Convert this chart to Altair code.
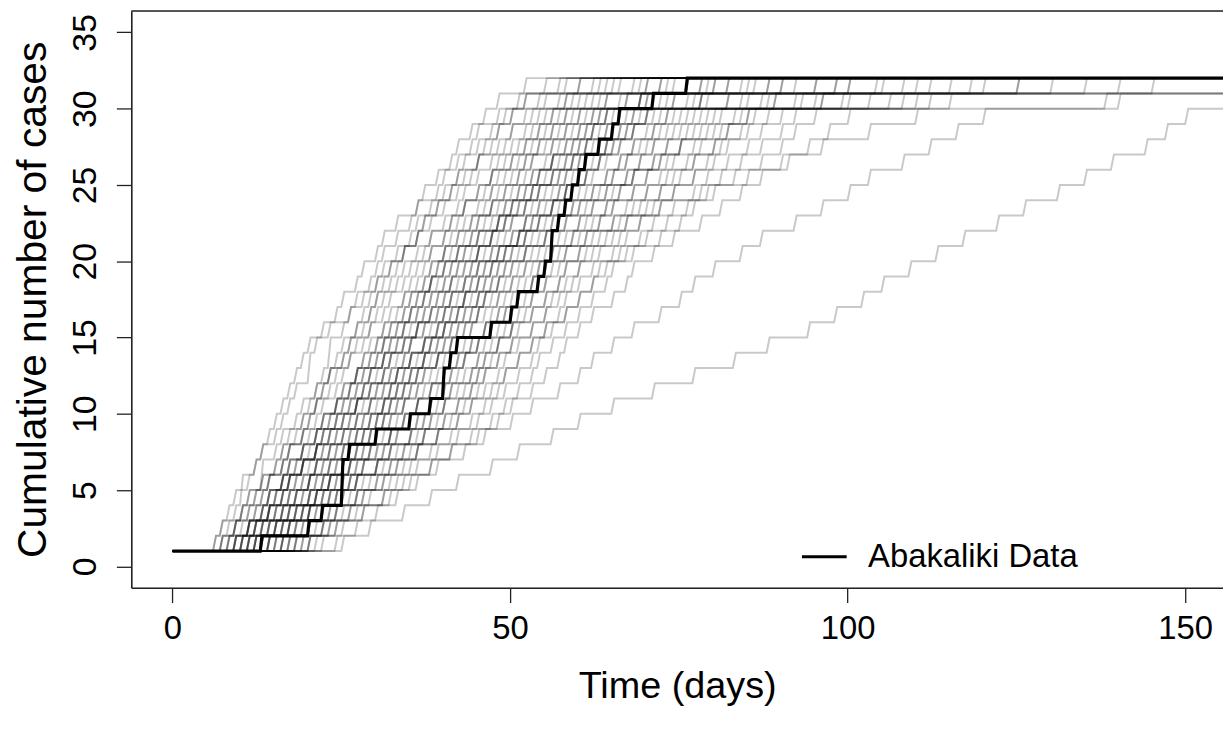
import altair as alt
import pandas as pd
from itertools import groupby

# ---- Abakaliki data ----
black_days = [0, 13, 20, 22, 25, 26, 30, 35, 38, 40, 41, 42, 47, 50, 51, 54, 55, 56, 57, 58, 59, 60, 61, 63, 65, 66, 71, 76]
black_cases = [1, 2, 3, 4, 7, 8, 9, 10, 11, 13, 14, 15, 16, 17, 18, 19, 20, 22, 23, 24, 25, 26, 27, 28, 29, 30, 31, 32]

# ---- simulated epidemics: day gaps between successive cases (estimated by eye) ----
sim_gaps = [
    [6, 1,2,1,0,2,1,2,1, 1,1,2,0,1,1,2,1,2,1, 2,1,2,3,1,2,2,1,2,2, 2,4],
    [7, 2,1,1,2,0,2,1,2, 1,2,1,1,0,2,1,1,2,1, 1,2,2,1,3,1,2,2,1,3, 3,4],
    [8, 1,1,2,1,2,1,1,2, 2,1,1,2,1,2,1,1,2,1, 1,2,2,1,2,1,3,2,1,2, 2,5],
    [9, 2,1,1,1,2,1,2,1, 1,1,1,2,1,1,2,1,1,1, 2,2,1,3,2,2,1,3,2,2, 3,5],
    [7, 2,2,1,2,2,1,2,2, 1,2,1,1,2,1,2,1,2,1, 2,1,2,2,1,2,2,2,1,3, 4,5],
    [10, 1,2,1,2,1,2,2,1, 2,1,2,1,1,2,1,2,1,1, 2,2,1,2,3,1,2,2,2,2, 3,5],
    [8, 2,3,1,2,2,1,2,2, 1,1,2,1,2,1,2,1,2,1, 1,2,2,1,2,2,1,2,2,2, 4,6],
    [11, 2,1,2,2,1,2,1,2, 1,2,1,2,1,1,2,1,2,1, 2,1,2,2,2,1,2,2,2,2, 3,7],
    [9, 3,2,2,1,2,2,2,2, 2,1,1,2,1,2,1,2,1,1, 1,2,2,2,1,2,2,2,2,2, 3,5],
    [12, 2,2,1,2,2,1,2,2, 1,1,2,1,2,1,2,1,1,2, 2,2,1,2,2,2,1,2,2,2, 4,6],
    [10, 2,3,2,2,2,2,2,2, 1,2,1,1,2,2,1,1,2,1, 2,1,2,2,2,2,1,2,2,2, 4,7],
    [13, 1,2,2,2,1,2,2,2, 2,1,2,1,2,1,2,1,2,1, 2,2,2,1,2,2,2,1,2,2, 4,5],
    [11, 2,2,3,2,2,2,2,2, 1,2,2,1,1,2,2,1,1,2, 2,2,1,2,2,2,2,1,2,2, 5,6],
    [14, 2,2,2,1,2,2,2,2, 2,1,1,2,2,1,2,1,2,1, 1,2,2,2,2,1,2,2,2,2, 5,7],
    [12, 3,2,2,2,3,2,2,2, 1,1,2,1,2,2,1,1,2,1, 2,2,2,2,1,2,2,2,2,2, 4,6],
    [15, 2,3,1,2,2,2,2,2, 1,2,1,2,1,2,1,2,1,1, 2,2,1,2,2,2,2,2,2,2, 5,7],
    [13, 2,3,2,2,3,2,2,2, 2,1,2,1,1,2,2,1,2,1, 2,2,2,1,2,2,2,2,2,2, 5,8],
    [16, 1,2,3,2,2,2,2,2, 2,1,1,2,2,1,2,2,1,1, 2,2,2,2,2,1,2,2,2,2, 6,8],
    [14, 3,2,3,2,2,3,2,2, 1,2,2,1,2,1,2,1,2,1, 2,2,2,2,2,2,1,2,2,2, 4,8],
    [17, 2,2,3,2,2,2,2,2, 2,1,2,1,2,2,1,1,2,1, 2,2,2,2,1,2,2,2,2,2, 5,9],
    [12, 3,3,3,2,3,3,3,3, 1,2,2,1,2,1,2,1,2,1, 2,3,2,1,2,2,2,2,2,2, 6,9],
    [15, 3,2,3,3,2,3,2,3, 2,1,2,1,2,2,1,1,2,1, 2,2,3,2,2,2,2,2,2,2, 6,10],
    [18, 2,3,2,2,3,2,3,2, 1,2,1,2,2,1,2,1,2,1, 2,2,2,3,2,2,2,2,2,2, 5,8],
    [16, 3,3,2,3,3,2,3,3, 2,1,2,2,1,2,2,1,2,1, 2,2,2,2,3,2,2,2,2,2, 7,10],
    [19, 3,2,3,2,3,2,3,2, 1,2,2,1,2,2,1,2,2,1, 2,2,3,2,2,2,3,2,2,2, 7,11],
    [13, 4,3,4,3,3,4,3,3, 2,2,1,2,1,2,2,1,2,1, 2,3,2,2,3,2,2,3,2,2, 8,11],
    [20, 3,3,2,3,2,3,3,2, 2,2,1,2,2,1,2,2,2,1, 2,2,3,2,3,2,2,3,2,2, 8,11],
    [17, 3,4,3,3,3,3,3,3, 2,2,2,1,2,2,2,1,2,2, 2,3,2,3,2,3,2,3,2,2, 9,12],
    [22, 3,3,3,2,3,3,2,3, 2,2,1,2,2,2,2,1,2,2, 3,2,2,3,2,3,2,2,3,2, 10,14],
    [18, 4,3,4,3,3,3,4,3, 2,2,2,2,1,2,2,2,2,1, 3,3,2,3,3,2,3,3,2,3, 10,15],
    [24, 3,3,3,3,2,3,3,3, 2,2,2,1,2,2,2,2,2,1, 3,4,3,2,3,3,4,3,2,3, 11,14],
    [20, 4,3,4,3,4,3,4,3, 2,3,2,2,1,2,2,3,2,1, 3,3,4,3,3,3,4,3,3,3, 12,18],
    [10, 1,2,1,2,1,2,2,1, 2,2,1,2,2,2,2,1,2,2, 2,3,3,2,4,3,3,4,3,3, 25,45],
    [9, 2,3,2,1,2,2,2,2, 2,2,3,2,1,2,2,2,2,2, 3,4,4,3,5,4,4,3,5,5, 30,50],
    [14, 2,2,3,2,2,1,2,2, 2,2,2,3,2,2,2,3,2,2, 4,5,6,5,7,6,5,6,7,7, 30,35],
    [25, 4,5,4,4,5,4,5,4, 5,6,6,6,5,6,4,4,3,4, 4,4,5,4,5,4,4,5,3,3, 15,25],
    [21, 3,4,4,3,4,4,3,4, 3,4,3,2,3,3,4,3,2,3, 4,3,5,4,4,3,5,4,4,4, 18,22],
    [6, 1,1,1,2,1,1,1,1, 1,1,1,1,1,3,3,2,2,2, 2,2,1,2,2,2,2,1,2,2, 4,6],
    [11, 2,3,2,2,3,2,2,2, 2,2,1,2,2,2,2,1,2,2, 2,2,1,2,2,2,1,2,1,2, 10,16],
    [16, 2,2,3,2,2,3,2,2, 2,2,2,2,2,2,2,2,2,1, 2,2,3,2,2,3,2,2,3,2, 20,29],
    [8, 1,2,2,1,2,1,2,1, 1,2,1,2,1,2,1,1,2,1, 2,2,3,2,2,2,3,2,2,2, 5,9],
    [10, 2,2,1,2,2,2,1,2, 2,1,2,2,1,2,2,1,2,1, 2,3,2,2,2,2,3,2,2,2, 7,11],
    [12, 2,3,2,1,2,2,2,2, 2,2,1,2,2,2,1,2,2,1, 2,3,2,2,3,2,2,3,2,2, 9,13],
    [9, 2,1,2,2,1,2,1,2, 2,2,1,2,1,2,2,1,2,1, 2,2,2,3,2,2,2,3,2,2, 10,14],
    [14, 2,3,2,2,3,2,2,2, 2,2,1,2,2,2,2,1,2,2, 2,3,2,3,2,3,2,3,2,2, 11,15],
    [11, 2,2,2,1,2,2,2,2, 1,2,2,1,2,2,2,1,2,1, 3,2,2,3,2,2,3,2,3,2, 12,17],
    [15, 2,3,2,3,2,2,3,2, 2,2,2,3,2,2,2,2,2,2, 3,2,3,2,3,2,3,2,3,2, 12,16],
    [13, 2,2,3,2,2,2,2,2, 2,1,2,2,2,1,2,2,2,1, 2,2,3,2,2,3,2,2,3,2, 18,24],
    [18, 3,2,3,2,3,2,3,2, 2,3,2,1,2,2,3,2,2,1, 3,3,2,3,3,2,3,3,2,3, 14,19],
    [16, 2,3,2,3,2,3,2,3, 2,2,2,1,2,2,2,2,2,1, 2,3,2,3,2,2,3,2,3,2, 11,15],
    [7, 1,2,1,2,2,1,2,1, 1,1,2,1,1,2,1,1,1,1, 2,2,1,2,2,2,1,2,2,2, 3,6],
    [19, 3,2,3,3,2,3,2,3, 2,2,2,2,2,3,2,2,2,1, 3,3,3,2,3,3,3,2,3,3, 15,22],
    [10, 2,2,1,2,2,2,2,2, 2,2,2,1,2,2,2,2,2,1, 2,2,2,2,2,3,2,2,2,2, 5,7],
    [12, 2,2,2,2,1,2,2,2, 2,2,2,2,2,2,2,2,2,1, 2,3,2,3,2,3,2,3,2,3, 11,16],
    [20, 3,3,2,3,3,2,3,3, 2,3,2,2,2,2,3,2,2,2, 3,3,3,3,2,3,3,3,3,2, 18,25],
    [9, 2,2,2,1,2,2,1,2, 2,1,2,2,1,2,2,1,2,1, 2,2,2,2,1,2,2,2,2,2, 6,8],
    [14, 2,3,2,2,2,2,2,2, 2,2,2,2,1,2,2,2,2,1, 3,2,2,3,2,3,2,2,3,2, 6,9],
    [17, 3,2,3,2,3,2,3,2, 2,2,3,2,2,2,1,2,2,2, 3,3,2,3,2,3,3,2,3,2, 25,37],
    [11, 1,2,2,1,2,2,1,2, 2,2,1,2,2,2,2,1,2,1, 2,2,3,2,2,2,2,3,2,2, 6,9],
    [13, 2,2,3,2,1,2,2,2, 2,2,2,2,2,2,2,2,2,1, 2,2,2,2,3,2,2,2,2,2, 5,8],
]

x_ticks = [0, 50, 100, 150]
y_ticks = [0, 5, 10, 15, 20, 25, 30, 35]
legend_label = "Abakaliki Data"

X_DOMAIN = [-6.1, 155.6]
Y_DOMAIN = [-1.4, 36.4]
W, H = 1098, 580
END_DAY = 300
FONT = "Liberation Sans, Arial, sans-serif"

# build simulated trajectories (slanted rises as in the original drawing)
rows = []
for run, gaps in enumerate(sim_gaps):
    t, level, seq = 0, 1, 0
    rows.append(dict(run=run, seq=seq, day=0, cases=level))
    times = []
    for g in gaps:
        t += g
        times.append(t)
    for tt, grp in groupby(times):
        n = len(list(grp))
        seq += 1
        rows.append(dict(run=run, seq=seq, day=tt, cases=level))
        level += n
        seq += 1
        rows.append(dict(run=run, seq=seq, day=tt + 0.45, cases=level))
    seq += 1
    rows.append(dict(run=run, seq=seq, day=END_DAY, cases=level))
sim_df = pd.DataFrame(rows)

brows = [dict(seq=0, day=black_days[0], cases=black_cases[0], series=legend_label)]
seq = 0
for i in range(1, len(black_days)):
    seq += 1
    brows.append(dict(seq=seq, day=black_days[i], cases=black_cases[i - 1], series=legend_label))
    seq += 1
    brows.append(dict(seq=seq, day=black_days[i] + 0.25, cases=black_cases[i], series=legend_label))
seq += 1
brows.append(dict(seq=seq, day=END_DAY, cases=black_cases[-1], series=legend_label))
black_df = pd.DataFrame(brows)

x_scale = alt.Scale(domain=X_DOMAIN, nice=False, zero=False)
y_scale = alt.Scale(domain=Y_DOMAIN, nice=False, zero=False)

x_axis = alt.Axis(values=x_ticks, title="Time (days)", grid=False, tickSize=15,
                  tickColor="#222", tickWidth=1.3, domainColor="#222", domainWidth=1.6,
                  labelFont=FONT, labelFontSize=33, labelColor="black", labelPadding=10,
                  labelFlush=False, titleFont=FONT, titleFontSize=38,
                  titleFontWeight="normal", titleColor="black", titlePadding=22)
y_axis = alt.Axis(values=y_ticks, title="Cumulative number of cases", grid=False, tickSize=15,
                  tickColor="#222", tickWidth=1.3, domainColor="#222", domainWidth=1.6,
                  labelFont=FONT, labelFontSize=34, labelColor="black", labelAngle=270,
                  labelAlign="center", labelBaseline="bottom", labelPadding=14,
                  labelFlush=False, titleFont=FONT, titleFontSize=41,
                  titleFontWeight="normal", titleColor="black", titlePadding=14)

sims = alt.Chart(sim_df).mark_line(color="black", opacity=0.21, strokeWidth=2.0, clip=True).encode(
    x=alt.X("day:Q", scale=x_scale, axis=x_axis),
    y=alt.Y("cases:Q", scale=y_scale, axis=y_axis),
    detail="run:N",
    order="seq:Q",
)

data_line = alt.Chart(black_df).mark_line(strokeWidth=3.2, clip=True).encode(
    x=alt.X("day:Q", scale=x_scale),
    y=alt.Y("cases:Q", scale=y_scale),
    order="seq:Q",
    color=alt.Color("series:N", title=None,
                    scale=alt.Scale(domain=[legend_label], range=["black"]),
                    legend=alt.Legend(orient="none", legendX=673, legendY=525,
                                      symbolType="stroke", symbolSize=2025,
                                      symbolStrokeWidth=3, labelFont=FONT,
                                      labelFontSize=33, labelColor="black",
                                      labelOffset=20, labelLimit=500, padding=0)),
)

top_border = alt.Chart(pd.DataFrame({"k": [0]})).mark_rule(color="#222", strokeWidth=1.6).encode(
    x=alt.value(0), x2=alt.value(W), y=alt.value(0)
)

chart = alt.layer(sims, data_line, top_border).properties(
    width=W, height=H,
    padding={"left": 124, "top": 1, "right": 0, "bottom": 120},
    autosize=alt.AutoSizeParams(type="none"),
).configure_view(stroke=None).configure(background="white")

chart.save("out.html", embed_options={"renderer": "svg", "actions": False})
